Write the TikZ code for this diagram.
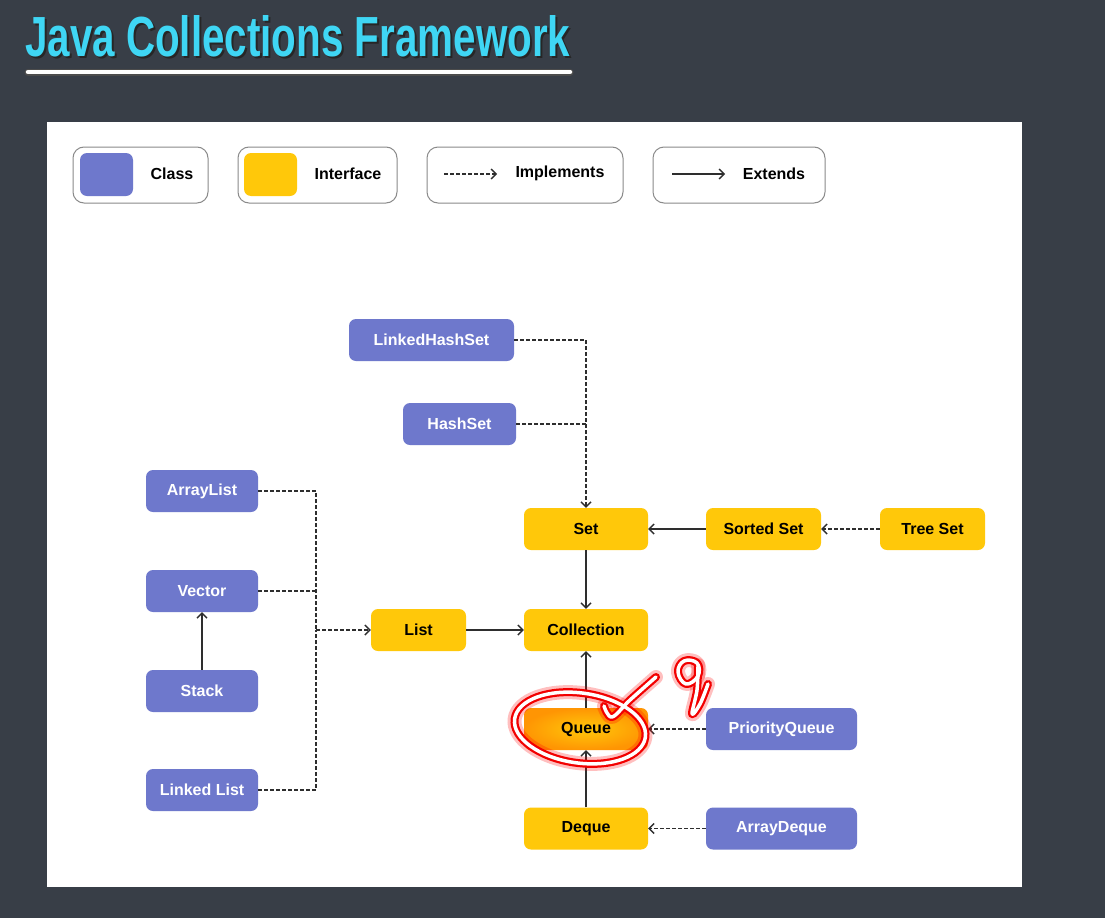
\documentclass[tikz,border=0pt]{standalone}
\usepackage{fontspec}
\setmainfont{Liberation Sans}
\usetikzlibrary{arrows.meta,shapes.geometric}
\definecolor{bg}{HTML}{383E47}
\definecolor{clsc}{HTML}{6E78CC}
\definecolor{ifcc}{HTML}{FFC80A}
\definecolor{ttl}{HTML}{3FD6F4}
\definecolor{lnk}{HTML}{2E2E2E}
\definecolor{legbd}{HTML}{8A8A8A}
\begin{document}
\begin{tikzpicture}[x=1pt,y=-1pt,
  box/.style={rounded corners=7pt, minimum height=42pt, inner sep=0pt, font=\fontsize{16}{19}\selectfont\bfseries},
  clsbox/.style={box, fill=clsc, text=white},
  ifcbox/.style={box, fill=ifcc, text=black},
  tipstyle/.style={-{Straight Barb[length=5pt,width=10pt,line width=1.4pt]}},
  implline/.style={draw=lnk, line width=1.6pt, dash pattern=on 3.5pt off 2.5pt},
  impl/.style={implline, tipstyle},
  ext/.style={draw=lnk, line width=1.6pt, tipstyle},
  legbox/.style={draw=legbd, line width=1pt, rounded corners=11pt, minimum height=56pt, inner sep=0pt},
  legtext/.style={font=\fontsize{16}{19}\selectfont\bfseries, inner sep=0pt},
  swatch/.style={rounded corners=7pt, minimum width=53pt, minimum height=43pt, inner sep=0pt},
  glow/.style={red, line width=14pt, opacity=0.25, line cap=round, line join=round},
  glowmid/.style={red!95!black, line width=8pt, line cap=round, line join=round},
  glowcore/.style={white, line width=3.5pt, line cap=round, line join=round}
]
\useasboundingbox (0,0) rectangle (1105,918);
\fill[bg] (0,0) rectangle (1105,918);

% title
\node[anchor=base west, inner sep=0pt, text=black!85] (ttlshadow) at (27,58)
  {\resizebox{545pt}{41pt}{\bfseries Java Collections Framework}};
\node[anchor=base west, inner sep=0pt, text=ttl] (title) at (25,56)
  {\resizebox{545pt}{41pt}{\bfseries Java Collections Framework}};
\draw[black!70, line width=7pt, line cap=round] (28,72) -- (570,72);
\draw[white, line width=4.5pt, line cap=round] (28,72) -- (570,72);

% panel
\fill[white] (47,122) rectangle (1022,887);

% legend
\node[legbox, minimum width=135pt] (lg1) at (140.5,175) {};
\node[swatch, fill=clsc] (sw1) at (106.5,174.5) {};
\node[legtext] (lt1) at (172,174) {Class};
\node[legbox, minimum width=159pt] (lg2) at (317.5,175) {};
\node[swatch, fill=ifcc] (sw2) at (270.5,174.5) {};
\node[legtext] (lt2) at (348,174) {Interface};
\node[legbox, minimum width=196pt] (lg3) at (525,175) {};
\coordinate (la1) at (444,174);
\coordinate (lb1) at (497,174);
\draw[impl] (la1) -- (lb1);
\node[legtext] (lt3) at (560,173) {Implements};
\node[legbox, minimum width=172pt] (lg4) at (739,175) {};
\coordinate (la2) at (672,174);
\coordinate (lb2) at (725,174);
\draw[ext] (la2) -- (lb2);
\node[legtext] (lt4) at (774,174) {Extends};

% nodes
\node[clsbox, minimum width=165pt] (lhs) at (431.5,340) {LinkedHashSet};
\node[clsbox, minimum width=113pt] (hs) at (459.5,424) {HashSet};
\node[clsbox, minimum width=112pt] (al) at (202,491) {ArrayList};
\node[clsbox, minimum width=112pt] (vec) at (202,591) {Vector};
\node[clsbox, minimum width=112pt] (stk) at (202,691) {Stack};
\node[clsbox, minimum width=112pt] (ll) at (202,790) {Linked List};
\node[ifcbox, minimum width=95pt] (list) at (418.5,630) {List};
\node[ifcbox, minimum width=124pt] (set) at (586,529) {Set};
\node[ifcbox, minimum width=124pt] (coll) at (586,630) {Collection};
\node[box, minimum width=124pt, inner color=ifcc, outer color=orange!70!ifcc, shading=radial, text=black] (que) at (586,729) {Queue};
\node[ifcbox, minimum width=124pt] (deq) at (586,828.5) {Deque};
\node[ifcbox, minimum width=115pt] (sset) at (763.5,529) {Sorted Set};
\node[ifcbox, minimum width=105pt] (tset) at (932.5,529) {Tree Set};
\node[clsbox, minimum width=151pt] (pq) at (781.5,729) {PriorityQueue};
\node[clsbox, minimum width=151pt] (ad) at (781.5,828.5) {ArrayDeque};

% connectors
\draw[impl] (lhs.east) -| (set.north);
\draw[implline] (hs.east) -- (hs.east -| set.north);
\coordinate (bus) at (316,630);
\draw[implline] (al.east) -| (bus);
\draw[implline] (ll.east) -| (bus);
\draw[implline] (vec.east) -- (vec.east -| bus);
\draw[impl] (bus) -- (list.west);
\draw[ext] (stk.north) -- (vec.south);
\draw[ext] (list.east) -- (coll.west);
\draw[ext] (set.south) -- (coll.north);
\draw[ext] (que.north) -- (coll.south);
\draw[ext] (deq.north) -- (que.south);
\draw[ext] (sset.west) -- (set.east);
\draw[impl] (tset.west) -- (sset.east);
\draw[impl] (pq.west) -- (que.east);
\draw[impl] (ad.west) -- (deq.east);

% hand-drawn annotation
\foreach \s in {glow,glowmid,glowcore}{
  \draw[\s, rotate around={-8:(580,728)}] (580,728) ellipse [x radius=66, y radius=35];
  \draw[\s] plot[smooth, tension=0.6] coordinates {(604,706) (612,717) (630,700) (656,677)};
  \draw[\s] plot[smooth cycle, tension=0.7] coordinates {(697,663) (684,661) (678,672) (686,684) (698,676)};
  \draw[\s] plot[smooth, tension=0.6] coordinates {(698,665) (697,690) (692,714) (700,704) (708,684)};
}
\end{tikzpicture}
\end{document}
